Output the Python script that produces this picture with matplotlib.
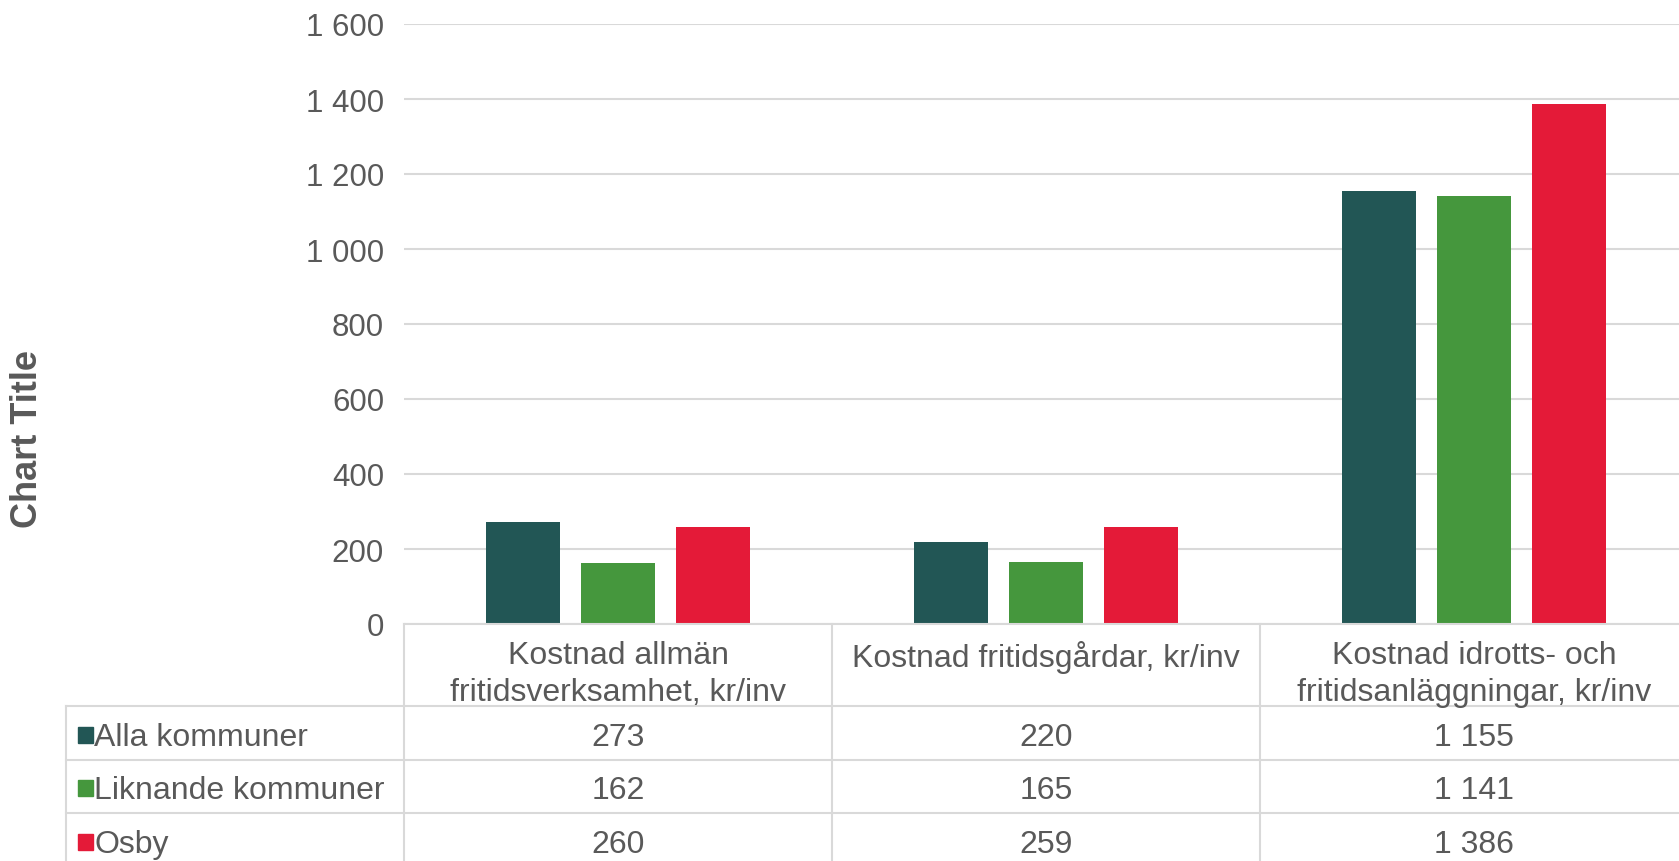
import matplotlib.pyplot as plt
import numpy as np
from matplotlib.ticker import FuncFormatter, MultipleLocator
from matplotlib.transforms import blended_transform_factory
from matplotlib.patches import Rectangle

plt.rcParams["font.family"] = ["Liberation Sans", "DejaVu Sans"]

# data
categories = [
    "Kostnad allmän\nfritidsverksamhet, kr/inv",
    "Kostnad fritidsgårdar, kr/inv",
    "Kostnad idrotts- och\nfritidsanläggningar, kr/inv",
]
series = ["Alla kommuner", "Liknande kommuner", "Osby"]
alla = [273, 220, 1155]
liknande = [162, 165, 1141]
osby = [260, 259, 1386]
values = [alla, liknande, osby]
colors = ["#225655", "#45973D", "#E41A38"]

TEXT = "#595959"
GRID = "#D9D9D9"
FS_TICK = 22.5
FS = 23

W, H = 1679, 862
fig = plt.figure(figsize=(W / 100, H / 100), dpi=100)
# plot area in pixels: left 404, top 25, zero line 625, column width 428
ax = fig.add_axes([404 / W, (H - 625) / H, 1284 / W, 600 / H])


def fx(px):
    # pixel x -> data x
    return (px - 404) / 428 - 0.5


def fy(py):
    # pixel y -> axes y
    return (625 - py) / 600


x = np.arange(len(categories))
width = 0.173
step = 0.222
for i, (name, vals) in enumerate(zip(series, values)):
    ax.bar(x + (i - 1) * step, vals, width, color=colors[i], zorder=2)

ax.set_xlim(-0.5, 2.5)
ax.set_ylim(0, 1600)
ax.yaxis.set_major_locator(MultipleLocator(200))
ax.yaxis.set_major_formatter(FuncFormatter(lambda v, p: f"{int(v):,}".replace(",", " ")))
ax.tick_params(axis="y", length=0, pad=14.4, labelsize=FS_TICK, labelcolor=TEXT)
ax.set_xticks([])
ax.grid(axis="y", color=GRID, linewidth=1.5, zorder=0)
for s in ax.spines.values():
    s.set_visible(False)

# data table below the axis
tr = blended_transform_factory(ax.transData, ax.transAxes)
row_lines = [fy(707), fy(761), fy(814)]
bottom = fy(868)
left = fx(66)
lkw = dict(color=GRID, linewidth=1.5, transform=tr, clip_on=False, zorder=3)
ax.plot([-0.5, 2.5], [0, 0], **lkw)
for y in row_lines:
    ax.plot([left, 2.5], [y, y], **lkw)
ax.plot([left, left], [row_lines[0], bottom], **lkw)
for xv in [-0.5, 0.5, 1.5]:
    ax.plot([xv, xv], [0, bottom], **lkw)

for i, cat in enumerate(categories):
    ax.text(i, fy(641), cat, transform=tr, ha="center", va="top", fontsize=FS,
            color=TEXT, linespacing=1.3, clip_on=False)

centers = [fy(738), fy(791), fy(845)]
for r, (name, vals) in enumerate(zip(series, values)):
    yc = centers[r]
    ax.add_patch(Rectangle((fx(78), yc - 0.0133 + 0.004), fx(93) - fx(78), 0.0267,
                           transform=tr, color=colors[r], clip_on=False))
    ax.text(fx(94), yc, name, transform=tr, ha="left", va="center", fontsize=FS,
            color=TEXT, clip_on=False)
    for i, v in enumerate(vals):
        ax.text(i, yc, f"{v:,}".replace(",", " "), transform=tr, ha="center",
                va="center", fontsize=FS, color=TEXT, clip_on=False)

fig.text(28 / W, 1 - 439 / H, "Chart Title", rotation=90, ha="center", va="center",
         fontsize=26, fontweight="bold", color=TEXT)

fig.savefig("out.png", dpi=100)
